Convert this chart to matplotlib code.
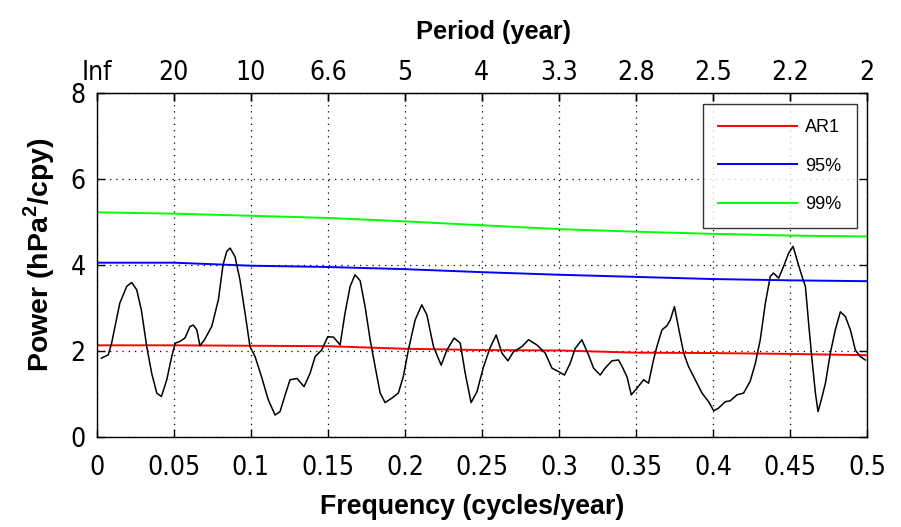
import matplotlib
matplotlib.use("Agg")
import matplotlib.pyplot as plt
from matplotlib import font_manager
from matplotlib.font_manager import FontProperties

# ---------------- data ----------------
freq = [0.003, 0.0075, 0.0097, 0.015, 0.0195, 0.0227, 0.026, 0.029, 0.0325, 0.0357,
        0.039, 0.042, 0.0455, 0.0487, 0.051, 0.054, 0.0573, 0.0606, 0.0627, 0.065,
        0.067, 0.070, 0.0747, 0.079, 0.082, 0.0844, 0.0866, 0.0898, 0.093, 0.0963,
        0.0995, 0.1028, 0.107, 0.1114, 0.1158, 0.119, 0.122, 0.1255, 0.130, 0.1346,
        0.1385, 0.1418, 0.146, 0.150, 0.1537, 0.158, 0.1612, 0.1645, 0.1677, 0.171,
        0.1742, 0.1775, 0.1807, 0.184, 0.1872, 0.1915, 0.1958, 0.199, 0.2023, 0.2067,
        0.211, 0.2143, 0.2186, 0.2236, 0.2273, 0.232, 0.236, 0.2392, 0.243, 0.2468,
        0.251, 0.2554, 0.2593, 0.263, 0.2669, 0.2705, 0.276, 0.2803, 0.2857, 0.2911,
        0.2955, 0.2997, 0.3036, 0.3073, 0.3106, 0.3149, 0.3192, 0.3225, 0.3268, 0.330,
        0.3344, 0.3387, 0.341, 0.3442, 0.347, 0.3506, 0.355, 0.3582, 0.3614, 0.3636,
        0.3669, 0.370, 0.3723, 0.375, 0.3777, 0.381, 0.3841, 0.3885, 0.3929, 0.3972,
        0.4005, 0.4036, 0.408, 0.4112, 0.4156, 0.4199, 0.4242, 0.4275, 0.4307, 0.434,
        0.4372, 0.4393, 0.4426, 0.4458, 0.4491, 0.452, 0.4545, 0.4578, 0.460, 0.4621,
        0.4643, 0.4665, 0.4682, 0.4703, 0.473, 0.4762, 0.4794, 0.4827, 0.4859, 0.4892,
        0.4924, 0.4956, 0.4989]
power = [1.83, 1.91, 2.18, 3.11, 3.50, 3.59, 3.42, 2.95, 2.10, 1.48,
         1.02, 0.94, 1.33, 1.87, 2.18, 2.22, 2.30, 2.57, 2.60, 2.49,
         2.12, 2.26, 2.57, 3.19, 4.00, 4.31, 4.39, 4.19, 3.65, 2.88,
         2.10, 1.87, 1.40, 0.86, 0.51, 0.59, 0.94, 1.33, 1.36, 1.17,
         1.48, 1.87, 2.02, 2.33, 2.32, 2.14, 2.88, 3.50, 3.77, 3.63,
         3.03, 2.26, 1.64, 1.02, 0.80, 0.90, 1.02, 1.40, 2.02, 2.72,
         3.07, 2.84, 2.10, 1.67, 2.02, 2.30, 2.18, 1.48, 0.80, 1.05,
         1.62, 2.08, 2.37, 1.95, 1.77, 1.98, 2.10, 2.26, 2.14, 1.95,
         1.60, 1.52, 1.44, 1.71, 2.06, 2.26, 1.91, 1.60, 1.44, 1.60,
         1.77, 1.79, 1.64, 1.40, 0.98, 1.13, 1.33, 1.25, 1.79, 2.10,
         2.49, 2.58, 2.72, 3.03, 2.53, 1.95, 1.64, 1.33, 1.02, 0.82,
         0.61, 0.67, 0.82, 0.84, 0.98, 1.02, 1.30, 1.71, 2.26, 3.11,
         3.73, 3.81, 3.69, 3.96, 4.27, 4.43, 4.12, 3.73, 3.50, 2.64,
         1.79, 1.02, 0.59, 0.86, 1.25, 1.95, 2.49, 2.91, 2.80, 2.49,
         2.02, 1.87, 1.79]

ref_freq = [0.0, 0.05, 0.1, 0.15, 0.2, 0.25, 0.3, 0.35, 0.4, 0.45, 0.5]
ar1 = [2.13, 2.13, 2.12, 2.11, 2.05, 2.02, 2.01, 1.96, 1.95, 1.93, 1.90]
sig95 = [4.05, 4.05, 3.98, 3.95, 3.90, 3.83, 3.77, 3.72, 3.67, 3.64, 3.62]
sig99 = [5.22, 5.19, 5.14, 5.09, 5.01, 4.92, 4.83, 4.77, 4.72, 4.68, 4.66]

xticks = [0, 0.05, 0.1, 0.15, 0.2, 0.25, 0.3, 0.35, 0.4, 0.45, 0.5]
xticklabels = ["0", "0.05", "0.1", "0.15", "0.2", "0.25", "0.3", "0.35", "0.4", "0.45", "0.5"]
period_labels = ["Inf", "20", "10", "6.6", "5", "4", "3.3", "2.8", "2.5", "2.2", "2"]
yticks = [0, 2, 4, 6, 8]
series_labels = ["AR1", "95%", "99%"]

# ---------------- fonts ----------------
narrow = None
for f in font_manager.fontManager.ttflist:
    nm = f.name.lower()
    fn = f.fname.lower()
    if f.weight in (400, "normal", "regular") and f.style == "normal" and (
            "narrow" in nm or "condensed" in nm or "condensed" in fn or "narrow" in fn
            or str(f.stretch) in ("condensed", "semi-condensed", "500", "75", "87")):
        if "oblique" in fn or "italic" in fn or "bold" in fn:
            continue
        narrow = f.fname
        if "dejavu" in fn or "liberation" in fn:
            break
if narrow:
    tick_fp = FontProperties(fname=narrow, size=19)
else:
    tick_fp = FontProperties(family="Liberation Sans", size=17)

plt.rcParams['font.family'] = ["Liberation Sans", "DejaVu Sans"]
plt.rcParams['mathtext.fontset'] = 'custom'
plt.rcParams['mathtext.rm'] = 'Liberation Sans:bold'
plt.rcParams['mathtext.bf'] = 'Liberation Sans:bold'

fig = plt.figure(figsize=(9.01, 5.27), dpi=100)
ax = fig.add_axes([0.1073, 0.1708, 0.8550, 0.6533])

ax.plot(freq, power, color="black", lw=1.1, zorder=3)
l1, = ax.plot(ref_freq, ar1, color="#ff0000", lw=1.4, zorder=2)
l2, = ax.plot(ref_freq, sig95, color="#0000ff", lw=1.4, zorder=2)
l3, = ax.plot(ref_freq, sig99, color="#00ff00", lw=1.4, zorder=2)

ax.set_xlim(0, 0.5)
ax.set_ylim(0, 8)
ax.set_xticks(xticks)
ax.set_xticklabels(xticklabels, fontproperties=tick_fp)
ax.set_yticks(yticks)
ax.set_yticklabels([str(v) for v in yticks], fontproperties=tick_fp)
ax.grid(True, color="black", linestyle=(0, (1, 4)), linewidth=0.9)
ax.tick_params(direction="in", length=6, width=1, top=True, right=True)
ax.tick_params(axis='x', pad=13)
ax.tick_params(axis='y', pad=8)
for s in ax.spines.values():
    s.set_linewidth(1.0)

sec = ax.secondary_xaxis('top')
sec.set_xticks(xticks)
sec.set_xticklabels(period_labels, fontproperties=tick_fp)
sec.tick_params(direction="in", length=6, width=1, pad=5)
sec.set_xlabel("Period (year)", fontsize=18.3, fontweight="bold", labelpad=15)
sec.xaxis.label.set_x(0.515)

ax.set_xlabel("Frequency (cycles/year)", fontsize=19.3, fontweight="bold", labelpad=9)
ax.xaxis.label.set_x(0.488)
ax.set_ylabel(r"Power (hPa$^{2}$/cpy)", fontsize=20.5, fontweight="bold")
ax.yaxis.set_label_coords(-0.052, 0.53)

leg = ax.legend([l1, l2, l3], series_labels, loc="upper right",
                bbox_to_anchor=(0.987, 0.967), borderaxespad=0,
                fontsize=13, frameon=True, fancybox=False, edgecolor="black",
                handlelength=4.4, handletextpad=0.45, labelspacing=1.18,
                borderpad=0.85)
leg.get_frame().set_linewidth(1.0)

fig.savefig("out.png", dpi=100)
